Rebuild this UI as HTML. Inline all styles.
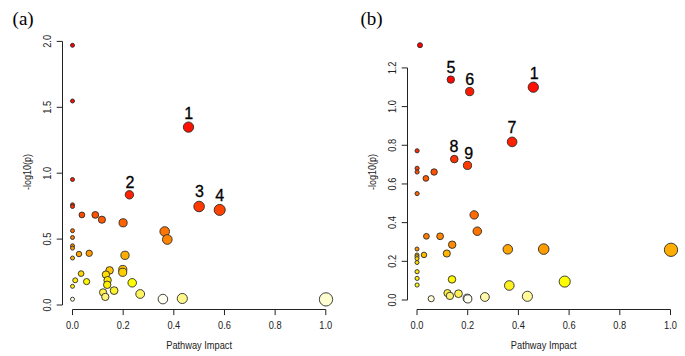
<!DOCTYPE html>
<html><head><meta charset="utf-8"><style>
html,body{margin:0;padding:0;background:#fff;}
svg{display:block;}
.ax{stroke:#222;stroke-width:1;fill:none;}
circle{stroke:#2a2a2a;stroke-width:0.9;}
.tk{font-family:"Liberation Sans",sans-serif;font-size:10.3px;fill:#222;}
.lb{font-family:"Liberation Sans",sans-serif;font-size:16px;fill:#000;stroke:#000;stroke-width:0.3px;}
.tt{font-family:"Liberation Serif",serif;font-size:19px;fill:#000;}
</style></head><body>
<svg width="685" height="356" viewBox="0 0 685 356">
<rect width="685" height="356" fill="#fff"/>
<line x1="62.5" y1="41.39999999999998" x2="62.5" y2="305.0" class="ax"/>
<line x1="56.7" y1="305.00" x2="62.5" y2="305.00" class="ax"/>
<text class="tk" text-anchor="middle" transform="translate(51.30,305.00) rotate(-90) scale(0.9,1)">0.0</text>
<line x1="56.7" y1="239.10" x2="62.5" y2="239.10" class="ax"/>
<text class="tk" text-anchor="middle" transform="translate(51.30,239.10) rotate(-90) scale(0.9,1)">0.5</text>
<line x1="56.7" y1="173.20" x2="62.5" y2="173.20" class="ax"/>
<text class="tk" text-anchor="middle" transform="translate(51.30,173.20) rotate(-90) scale(0.9,1)">1.0</text>
<line x1="56.7" y1="107.30" x2="62.5" y2="107.30" class="ax"/>
<text class="tk" text-anchor="middle" transform="translate(51.30,107.30) rotate(-90) scale(0.9,1)">1.5</text>
<line x1="56.7" y1="41.40" x2="62.5" y2="41.40" class="ax"/>
<text class="tk" text-anchor="middle" transform="translate(51.30,41.40) rotate(-90) scale(0.9,1)">2.0</text>
<line x1="72.5" y1="309.5" x2="325.80" y2="309.5" class="ax"/>
<line x1="72.50" y1="309.5" x2="72.50" y2="315.1" class="ax"/>
<text class="tk" text-anchor="middle" transform="translate(72.50,328.8) scale(0.9,1)">0.0</text>
<line x1="123.16" y1="309.5" x2="123.16" y2="315.1" class="ax"/>
<text class="tk" text-anchor="middle" transform="translate(123.16,328.8) scale(0.9,1)">0.2</text>
<line x1="173.82" y1="309.5" x2="173.82" y2="315.1" class="ax"/>
<text class="tk" text-anchor="middle" transform="translate(173.82,328.8) scale(0.9,1)">0.4</text>
<line x1="224.48" y1="309.5" x2="224.48" y2="315.1" class="ax"/>
<text class="tk" text-anchor="middle" transform="translate(224.48,328.8) scale(0.9,1)">0.6</text>
<line x1="275.14" y1="309.5" x2="275.14" y2="315.1" class="ax"/>
<text class="tk" text-anchor="middle" transform="translate(275.14,328.8) scale(0.9,1)">0.8</text>
<line x1="325.80" y1="309.5" x2="325.80" y2="315.1" class="ax"/>
<text class="tk" text-anchor="middle" transform="translate(325.80,328.8) scale(0.9,1)">1.0</text>
<text class="tk" text-anchor="middle" transform="translate(199.15,349.0) scale(0.9,1)">Pathway Impact</text>
<text class="tk" text-anchor="middle" transform="translate(31.40,171.9) rotate(-90) scale(0.875,1)">-log10(p)</text>
<circle cx="72.5" cy="45.3" r="2.00" fill="#FF0000"/>
<circle cx="72.5" cy="101" r="2.00" fill="#FF0800"/>
<circle cx="188.5" cy="127.1" r="5.15" fill="#FF1000"/>
<circle cx="72.5" cy="179.5" r="2.00" fill="#FF1900"/>
<circle cx="129.4" cy="194.8" r="4.20" fill="#FF2100"/>
<circle cx="72.5" cy="204.8" r="2.00" fill="#FF2900"/>
<circle cx="72.5" cy="206.5" r="2.00" fill="#FF3100"/>
<circle cx="199.1" cy="206.5" r="5.29" fill="#FF3A00"/>
<circle cx="219.7" cy="209.9" r="5.54" fill="#FF4200"/>
<circle cx="81.9" cy="214.9" r="2.90" fill="#FF4A00"/>
<circle cx="95.3" cy="214.9" r="3.40" fill="#FF5200"/>
<circle cx="101.9" cy="219.7" r="3.58" fill="#FF5A00"/>
<circle cx="123.1" cy="222.8" r="4.08" fill="#FF6300"/>
<circle cx="72.5" cy="230.7" r="2.00" fill="#FF6B00"/>
<circle cx="164.7" cy="231.5" r="4.81" fill="#FF7300"/>
<circle cx="72.5" cy="237.5" r="2.00" fill="#FF7B00"/>
<circle cx="167.3" cy="239.5" r="4.84" fill="#FF8400"/>
<circle cx="72.5" cy="245.8" r="2.00" fill="#FF8C00"/>
<circle cx="72.5" cy="248.1" r="2.00" fill="#FF9400"/>
<circle cx="89.2" cy="253.3" r="3.19" fill="#FF9C00"/>
<circle cx="79.0" cy="254.0" r="2.74" fill="#FFA500"/>
<circle cx="125" cy="255.3" r="4.12" fill="#FFAD00"/>
<circle cx="72.5" cy="258" r="2.00" fill="#FFB500"/>
<circle cx="122.8" cy="269.5" r="4.07" fill="#FFBD00"/>
<circle cx="109.6" cy="270.4" r="3.78" fill="#FFC500"/>
<circle cx="122.7" cy="272.3" r="4.07" fill="#FFCE00"/>
<circle cx="81.1" cy="273.6" r="2.86" fill="#FFD600"/>
<circle cx="105.9" cy="274.6" r="3.69" fill="#FFDE00"/>
<circle cx="107.6" cy="280.2" r="3.73" fill="#FFE600"/>
<circle cx="75.2" cy="280.3" r="2.48" fill="#FFEF00"/>
<circle cx="86.6" cy="281.6" r="3.10" fill="#FFF700"/>
<circle cx="132.2" cy="282.8" r="4.26" fill="#FFFF00"/>
<circle cx="107.2" cy="284.8" r="3.72" fill="#FFF000"/>
<circle cx="72.5" cy="286.3" r="2.00" fill="#FFEE10"/>
<circle cx="114.1" cy="290.6" r="3.88" fill="#FFF22A"/>
<circle cx="103.1" cy="292.4" r="3.62" fill="#FFF248"/>
<circle cx="140.2" cy="294" r="4.40" fill="#FFF460"/>
<circle cx="105.3" cy="296.9" r="3.67" fill="#FFF47A"/>
<circle cx="182.3" cy="298.5" r="5.06" fill="#FFF888"/>
<circle cx="162.9" cy="299.1" r="4.78" fill="#FFFFF2"/>
<circle cx="72.5" cy="299.2" r="2.00" fill="#FFFFE0"/>
<circle cx="326" cy="299.4" r="6.65" fill="#FFFFD2"/>
<text class="lb" text-anchor="middle" x="188.7" y="118.7">1</text>
<text class="lb" text-anchor="middle" x="130.0" y="187.9">2</text>
<text class="lb" text-anchor="middle" x="199.5" y="197.1">3</text>
<text class="lb" text-anchor="middle" x="219.8" y="200.6">4</text>
<text class="tt" x="12.6" y="24.7">(a)</text>
<line x1="407.5" y1="67.92000000000002" x2="407.5" y2="300.0" class="ax"/>
<line x1="401.7" y1="300.00" x2="407.5" y2="300.00" class="ax"/>
<text class="tk" text-anchor="middle" transform="translate(396.30,300.00) rotate(-90) scale(0.9,1)">0.0</text>
<line x1="401.7" y1="261.32" x2="407.5" y2="261.32" class="ax"/>
<text class="tk" text-anchor="middle" transform="translate(396.30,261.32) rotate(-90) scale(0.9,1)">0.2</text>
<line x1="401.7" y1="222.64" x2="407.5" y2="222.64" class="ax"/>
<text class="tk" text-anchor="middle" transform="translate(396.30,222.64) rotate(-90) scale(0.9,1)">0.4</text>
<line x1="401.7" y1="183.96" x2="407.5" y2="183.96" class="ax"/>
<text class="tk" text-anchor="middle" transform="translate(396.30,183.96) rotate(-90) scale(0.9,1)">0.6</text>
<line x1="401.7" y1="145.28" x2="407.5" y2="145.28" class="ax"/>
<text class="tk" text-anchor="middle" transform="translate(396.30,145.28) rotate(-90) scale(0.9,1)">0.8</text>
<line x1="401.7" y1="106.60" x2="407.5" y2="106.60" class="ax"/>
<text class="tk" text-anchor="middle" transform="translate(396.30,106.60) rotate(-90) scale(0.9,1)">1.0</text>
<line x1="401.7" y1="67.92" x2="407.5" y2="67.92" class="ax"/>
<text class="tk" text-anchor="middle" transform="translate(396.30,67.92) rotate(-90) scale(0.9,1)">1.2</text>
<line x1="417.0" y1="309.5" x2="670.50" y2="309.5" class="ax"/>
<line x1="417.00" y1="309.5" x2="417.00" y2="315.1" class="ax"/>
<text class="tk" text-anchor="middle" transform="translate(417.00,328.8) scale(0.9,1)">0.0</text>
<line x1="467.70" y1="309.5" x2="467.70" y2="315.1" class="ax"/>
<text class="tk" text-anchor="middle" transform="translate(467.70,328.8) scale(0.9,1)">0.2</text>
<line x1="518.40" y1="309.5" x2="518.40" y2="315.1" class="ax"/>
<text class="tk" text-anchor="middle" transform="translate(518.40,328.8) scale(0.9,1)">0.4</text>
<line x1="569.10" y1="309.5" x2="569.10" y2="315.1" class="ax"/>
<text class="tk" text-anchor="middle" transform="translate(569.10,328.8) scale(0.9,1)">0.6</text>
<line x1="619.80" y1="309.5" x2="619.80" y2="315.1" class="ax"/>
<text class="tk" text-anchor="middle" transform="translate(619.80,328.8) scale(0.9,1)">0.8</text>
<line x1="670.50" y1="309.5" x2="670.50" y2="315.1" class="ax"/>
<text class="tk" text-anchor="middle" transform="translate(670.50,328.8) scale(0.9,1)">1.0</text>
<text class="tk" text-anchor="middle" transform="translate(543.75,349.0) scale(0.9,1)">Pathway Impact</text>
<text class="tk" text-anchor="middle" transform="translate(376.40,171.9) rotate(-90) scale(0.875,1)">-log10(p)</text>
<circle cx="420" cy="45.2" r="2.51" fill="#FF0000"/>
<circle cx="450.8" cy="79.6" r="3.70" fill="#FF0800"/>
<circle cx="533.3" cy="87.2" r="5.15" fill="#FF1000"/>
<circle cx="469.7" cy="91.6" r="4.12" fill="#FF1900"/>
<circle cx="512.1" cy="141.9" r="4.85" fill="#FF2100"/>
<circle cx="417.1" cy="150.8" r="2.09" fill="#FF2900"/>
<circle cx="454.3" cy="159.1" r="3.78" fill="#FF3100"/>
<circle cx="467.5" cy="165.4" r="4.08" fill="#FF3A00"/>
<circle cx="417.1" cy="168.3" r="2.09" fill="#FF4200"/>
<circle cx="417.1" cy="172" r="2.09" fill="#FF4A00"/>
<circle cx="434.1" cy="172" r="3.21" fill="#FF5200"/>
<circle cx="425.9" cy="178.4" r="2.87" fill="#FF5A00"/>
<circle cx="417.1" cy="193.6" r="2.09" fill="#FF6300"/>
<circle cx="474.2" cy="214.9" r="4.21" fill="#FF6B00"/>
<circle cx="477.3" cy="231.2" r="4.27" fill="#FF7300"/>
<circle cx="426.4" cy="236.3" r="2.90" fill="#FF7B00"/>
<circle cx="440.1" cy="236.3" r="3.40" fill="#FF8400"/>
<circle cx="452.2" cy="244.7" r="3.73" fill="#FF8C00"/>
<circle cx="417" cy="249" r="2.00" fill="#FF9400"/>
<circle cx="543.7" cy="249.1" r="5.29" fill="#FF9C00"/>
<circle cx="507.8" cy="249.3" r="4.78" fill="#FFA500"/>
<circle cx="671" cy="249.8" r="6.65" fill="#FFAD00"/>
<circle cx="446.8" cy="253.5" r="3.59" fill="#FFB500"/>
<circle cx="424" cy="254.9" r="2.77" fill="#FFBD00"/>
<circle cx="417" cy="255" r="2.00" fill="#FFC500"/>
<circle cx="417" cy="256.7" r="2.00" fill="#FFCE00"/>
<circle cx="417" cy="258.6" r="2.00" fill="#FFD600"/>
<circle cx="417" cy="262.5" r="2.00" fill="#FFDE00"/>
<circle cx="417.1" cy="271.7" r="2.09" fill="#FFE600"/>
<circle cx="417.1" cy="278.4" r="2.09" fill="#FFEF00"/>
<circle cx="452" cy="279.4" r="3.73" fill="#FFF700"/>
<circle cx="564.7" cy="281.6" r="5.55" fill="#FFFF00"/>
<circle cx="417.1" cy="285" r="2.09" fill="#FFFF0D"/>
<circle cx="509.3" cy="285.5" r="4.81" fill="#FFF020"/>
<circle cx="447.5" cy="293.1" r="3.61" fill="#FFF040"/>
<circle cx="458.5" cy="293.7" r="3.88" fill="#FFF055"/>
<circle cx="449.9" cy="295.9" r="3.68" fill="#FFF270"/>
<circle cx="527.4" cy="296.3" r="5.07" fill="#FFFA99"/>
<circle cx="484.9" cy="297" r="4.41" fill="#FFFAAA"/>
<circle cx="467.2" cy="298.2" r="4.07" fill="#FFFFF0"/>
<circle cx="431.2" cy="298.7" r="3.10" fill="#FFFFD8"/>
<circle cx="467.8" cy="298.9" r="4.08" fill="#FFFFF0"/>
<text class="lb" text-anchor="middle" x="451.0" y="73.1">5</text>
<text class="lb" text-anchor="middle" x="469.7" y="84.5">6</text>
<text class="lb" text-anchor="middle" x="534.3" y="78.5">1</text>
<text class="lb" text-anchor="middle" x="512.0" y="132.8">7</text>
<text class="lb" text-anchor="middle" x="454.0" y="151.9">8</text>
<text class="lb" text-anchor="middle" x="468.8" y="159.0">9</text>
<text class="tt" x="360.5" y="24.6">(b)</text>
</svg>
</body></html>
